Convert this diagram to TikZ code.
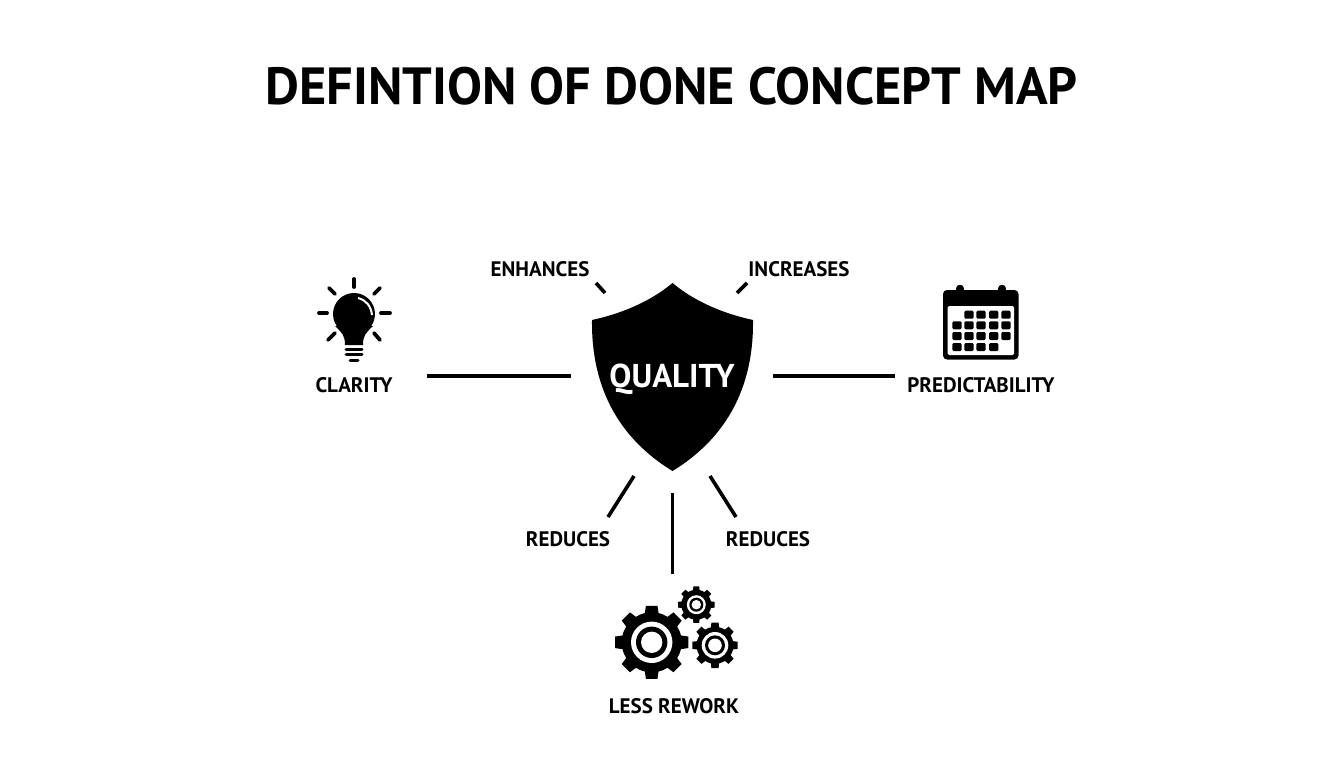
\documentclass[tikz,border=0pt]{standalone}
\usepackage{fontspec}
\setmainfont{PT Sans}
\usepackage{tikz}

\newcommand{\drawgear}[6]{
\foreach \a in {0,45,...,315}
  \fill ([shift = {(#1,#2)}]\a-14:#4pt-1pt) -- ([shift = {(#1,#2)}]\a-9:#3pt) -- ([shift = {(#1,#2)}]\a+9:#3pt) -- ([shift = {(#1,#2)}]\a+14:#4pt-1pt) -- cycle;
\fill (#1,#2) circle (#4pt);
\fill [white] (#1,#2) circle (#5pt);
\fill (#1,#2) circle (#6pt);
\fill [white] (#1,#2) circle (#6pt*0.68);
}

\tikzset{
  lab/.style = {inner sep = 0pt, font = \bfseries\fontsize{21}{25}\selectfont},
  link/.style = {line width = 3.6pt},
  ray/.style = {line width = 3.8pt, line cap = round}
}

\begin{document}
\begin{tikzpicture} [x = 1pt, y = -1pt]
\useasboundingbox (0,0) rectangle (1344,768);

\node(t)[inner sep = 0pt, font = \bfseries\fontsize{52.3}{62}\selectfont] at (671.5,86) {DEFINTION OF DONE CONCEPT MAP};

\fill (672.5,283) .. controls (650,302) and (620,314) .. (592,320)
  .. controls (591,400) and (630,445) .. (672.5,471)
  .. controls (715,445) and (754,400) .. (753,320)
  .. controls (725,314) and (695,302) .. (672.5,283) -- cycle;
\node(q)[lab, minimum width = 202pt, minimum height = 234pt] at (672,376) {};
\node(qt)[inner sep = 0pt, text = white, font = \bfseries\fontsize{33}{40}\selectfont] at (672,379) {QUALITY};

\node(cl)[lab] at (354,385) {CLARITY};
\node(pr)[lab] at (981,385) {PREDICTABILITY};
\node(en)[lab] at (540,269) {ENHANCES};
\node(in)[lab] at (799,269) {INCREASES};
\node(r1)[lab] at (568,539) {REDUCES};
\node(r2)[lab] at (768,539) {REDUCES};
\node(lr)[lab] at (674,706) {LESS REWORK};

\coordinate (c1) at (427,376);
\coordinate (c2) at (895,376);
\coordinate (c3) at (672.5,574);
\coordinate (e1) at (596,283);
\coordinate (e2) at (605,293);
\coordinate (i1) at (747,283);
\coordinate (i2) at (737,293);
\coordinate (a1) at (608,517);
\coordinate (a2) at (634,476);
\coordinate (b1) at (736,517);
\coordinate (b2) at (710,476);

\draw [link] (c1) -- (q.west);
\draw [link] (q.east) -- (c2);
\draw [link] (q.south -| c3) -- (c3);
\draw [link] (e1) -- (e2);
\draw [link] (i1) -- (i2);
\draw [link] (a1) -- (a2);
\draw [link] (b1) -- (b2);

\fill (354,314) circle (21pt);
\fill (335,326) .. controls (342,333) and (345,335) .. (345,345) -- (363,345) .. controls (363,335) and (366,333) .. (373,326) -- cycle;
\draw [white, line width = 2pt] (358,298) .. controls (366,300) and (371,306) .. (372,315);
\draw [line width = 3pt, line cap = round] (346,349.5) -- (362,349.5);
\draw [line width = 3pt, line cap = round] (346,354.5) -- (362,354.5);
\draw [line width = 3pt, line cap = round] (350,360) -- (358,360);
\draw [ray] (354,279) -- (354,287);
\draw [ray] (319,313) -- (327,313);
\draw [ray] (381,313) -- (390,313);
\draw [ray] (329,288) -- (335,294);
\draw [ray] (380,288) -- (374,294);
\draw [ray] (328,340) -- (335,333);
\draw [ray] (380,340) -- (374,333);

\fill [rounded corners = 4pt] (943,290) rectangle (1018.5,359.5);
\fill [white, rounded corners = 1.5pt] (947.5,306) rectangle (1014,355);
\draw [line width = 7.5pt, line cap = round] (960,288.5) -- (960,292);
\draw [line width = 7.5pt, line cap = round] (1002,288.5) -- (1002,292);
\foreach \x/\y in {969/314.7,981/314.7,993.7/314.7,1006/314.7,
  957/325.3,969/325.3,981/325.3,993.7/325.3,1006/325.3,
  957/336,969/336,981/336,993.7/336,1006/336,
  957/347,969/347,981/347,993.7/347}
  \fill [rounded corners = 1.2pt] (\x-4.6,\y-4) rectangle (\x+4.6,\y+4);

\drawgear{651.7}{642.3}{37}{30}{20.7}{15.7}
\drawgear{696.3}{604.7}{18.5}{15}{9.5}{7}
\drawgear{715}{645.3}{23}{18.5}{13.3}{10}
\end{tikzpicture}
\end{document}
